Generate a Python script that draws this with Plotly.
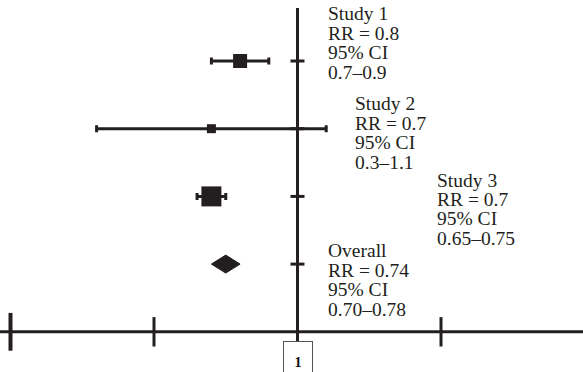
import plotly.graph_objects as go

# ---- data ----
studies = ["Study 1", "Study 2", "Study 3"]
rr = [0.8, 0.7, 0.7]
ci_lo = [0.7, 0.3, 0.65]
ci_hi = [0.9, 1.1, 0.75]
overall_rr = 0.75
overall_lo = 0.70
overall_hi = 0.80
label_lines = [
    ["Study 1", "RR = 0.8", "95% CI", "0.7–0.9"],
    ["Study 2", "RR = 0.7", "95% CI", "0.3–1.1"],
    ["Study 3", "RR = 0.7", "95% CI", "0.65–0.75"],
    ["Overall", "RR = 0.74", "95% CI", "0.70–0.78"],
]
axis_ticks = [0, 0.5, 1.5]
ref_value = 1
ref_label = "1"

# ---- style / layout ----
W, H = 583, 372
INK = "#231f20"
FONT = "Liberation Serif, Times New Roman, serif"
marker_sizes = [14, 9, 20]
row_px0, row_step = 61, 67.7           # pixel of row 0 and row spacing
x0_px, x_scale = 10.5, 287.0           # pixel of x=0, px per unit
label_pos = [(326.7, 20), (354.3, 110), (435.7, 186), (326.7, 257)]  # left px, first baseline px
line_gap = 19.4

rows = list(range(len(studies)))
overall_row = len(studies)
axis_row = overall_row + 1

x_range = [-x0_px / x_scale, (W - x0_px) / x_scale]
y_range = [(H - row_px0) / row_step, -row_px0 / row_step]
def px_to_row(p):
    return (p - row_px0) / row_step

fig = go.Figure()

# CI bars with caps
fig.add_trace(go.Scatter(
    x=rr, y=rows, mode="markers",
    marker=dict(symbol="square", size=marker_sizes, color=INK, opacity=1, line=dict(width=0)),
    error_x=dict(type="data", symmetric=False,
                 array=[h - r for h, r in zip(ci_hi, rr)],
                 arrayminus=[r - l for r, l in zip(rr, ci_lo)],
                 color=INK, thickness=3, width=3.5),
    hoverinfo="skip", showlegend=False,
))

# overall diamond
dh = 9 / row_step
fig.add_trace(go.Scatter(
    x=[overall_lo, overall_rr, overall_hi, overall_rr, overall_lo],
    y=[overall_row, overall_row - dh, overall_row, overall_row + dh, overall_row],
    mode="lines", fill="toself", fillcolor=INK, line=dict(color=INK, width=1),
    hoverinfo="skip", showlegend=False,
))

# reference line at 1
fig.add_shape(type="line", xref="x", yref="y",
              x0=ref_value, x1=ref_value, y0=px_to_row(8), y1=px_to_row(341),
              line=dict(color=INK, width=3), layer="below")
# small ticks on reference line for each row
fig.add_trace(go.Scatter(
    x=[ref_value] * (len(studies) + 1), y=rows + [overall_row], mode="markers",
    marker=dict(symbol="line-ew", size=10, opacity=1, line=dict(color=INK, width=3)),
    hoverinfo="skip", showlegend=False,
))

# horizontal axis
fig.add_shape(type="line", xref="x", yref="y",
              x0=x_range[0], x1=x_range[1], y0=axis_row, y1=axis_row,
              line=dict(color=INK, width=3), layer="below")
fig.add_trace(go.Scatter(
    x=axis_ticks, y=[axis_row] * len(axis_ticks), mode="markers",
    marker=dict(symbol="line-ns", size=[27, 21, 21], opacity=1,
                line=dict(color=INK, width=[4, 3, 3])),
    hoverinfo="skip", showlegend=False,
))

# box with "1"
fig.add_annotation(x=ref_value, xref="x", y=1 - 341 / H, yref="paper",
                   xanchor="center", yanchor="top", text="<b>" + ref_label + "</b>", showarrow=False,
                   width=28, height=40, bordercolor="#555555", borderwidth=1, borderpad=0,
                   bgcolor="white", font=dict(family=FONT, size=14, color="#111111"))

# labels
for (lx, lb), lines in zip(label_pos, label_lines):
    for k, t in enumerate(lines):
        b = lb + k * line_gap
        fig.add_annotation(x=lx / W, xref="paper", y=1 - (b - 6) / H, yref="paper",
                           xanchor="left", yanchor="middle", text=t, showarrow=False,
                           borderpad=0, font=dict(family=FONT, size=19.5, color=INK))

fig.update_layout(
    width=W, height=H, margin=dict(l=0, r=0, t=0, b=0),
    paper_bgcolor="white", plot_bgcolor="white",
    xaxis=dict(range=x_range, visible=False, fixedrange=True),
    yaxis=dict(range=y_range, visible=False, fixedrange=True),
)
fig.write_html("out.html", config={"displayModeBar": False},
               post_script="document.body.style.margin='0';document.body.style.overflow='hidden';")
